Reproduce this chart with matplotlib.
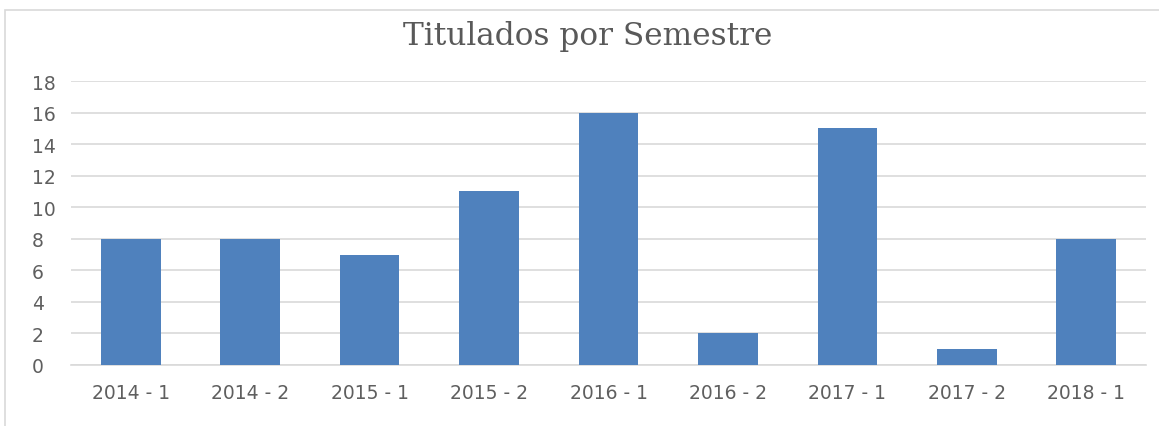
import numpy as np
import matplotlib.pyplot as plt
from matplotlib.patches import Rectangle

# data
semestres = ['2014 - 1', '2014 - 2', '2015 - 1', '2015 - 2', '2016 - 1',
             '2016 - 2', '2017 - 1', '2017 - 2', '2018 - 1']
titulados = [8, 8, 7, 11, 16, 2, 15, 1, 8]
yticks = [0, 2, 4, 6, 8, 10, 12, 14, 16, 18]

W, H = 1159, 427
fig = plt.figure(figsize=(W / 100, H / 100), dpi=100)

# chart border (only left/top visible in the reference)
fig.patches.append(Rectangle((5 / W, -0.1), 1.2, (427 - 11) / H + 0.1,
                             transform=fig.transFigure, fill=False,
                             edgecolor='#D9D9D9', linewidth=1.2))

ax = fig.add_axes([71 / W, 1 - 366 / H, (1146 - 71) / W, (366 - 82) / H])

x = np.arange(len(semestres))
ax.bar(x, titulados, width=0.5, color='#4F81BD', zorder=3)

ax.set_xlim(-0.5, len(semestres) - 0.5)
ax.set_ylim(0, 18)
ax.set_yticks(yticks)
ax.set_xticks(x)
ax.set_xticklabels(semestres)
ax.grid(axis='y', color='#D9D9D9', linewidth=1.2, zorder=0)
for s in ['top', 'right', 'left']:
    ax.spines[s].set_visible(False)
ax.spines['bottom'].set_color('#D9D9D9')
ax.spines['bottom'].set_linewidth(1.2)
ax.tick_params(axis='both', length=0, colors='#5f5f5f', labelsize=13.5)
ax.tick_params(axis='x', pad=13)
ax.tick_params(axis='y', pad=28)
for lbl in ax.get_yticklabels():
    lbl.set_horizontalalignment('left')

fig.text(588 / W, 1 - 36 / H, 'Titulados por Semestre', ha='center', va='center',
         fontsize=22.5, color='#595959', family='DejaVu Serif')

fig.savefig('out.png', dpi=100)
